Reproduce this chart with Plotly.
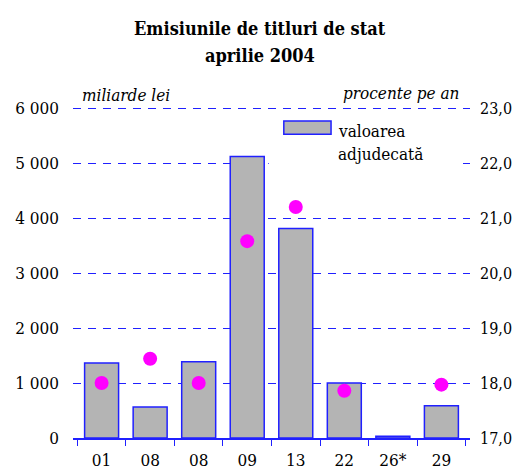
import plotly.graph_objects as go

categories = ["01", "08", "08 ", "09", "13", "22", "26*", "29"]
cat_labels = ["01", "08", "08", "09", "13", "22", "26*", "29"]
valoare = [1365, 565, 1385, 5120, 3810, 1000, 30, 585]
procente = [18.0, 18.44, 18.0, 20.58, 21.2, 17.86, None, 17.97]

left_ticks = [0, 1000, 2000, 3000, 4000, 5000, 6000]
left_labels = ["0", "1 000", "2 000", "3 000", "4 000", "5 000", "6 000"]
right_ticks = [17, 18, 19, 20, 21, 22, 23]
right_labels = ["17,0", "18,0", "19,0", "20,0", "21,0", "22,0", "23,0"]

FONT = "'DejaVu Serif Condensed', 'DejaVu Serif', serif"
FS = 17
BLUE = "#2020ff"

fig = go.Figure()
fig.add_trace(go.Bar(
    x=categories, y=valoare, name="valoarea adjudecată",
    marker=dict(color="#b4b4b4", line=dict(color=BLUE, width=1.5)),
    showlegend=False,
))
fig.add_trace(go.Scatter(
    x=categories, y=procente, yaxis="y2", mode="markers",
    marker=dict(color="#ff00ff", size=14),
    showlegend=False,
))

fig.update_layout(
    width=520, height=470,
    margin=dict(l=65, r=58, t=99, b=40, autoexpand=False),
    paper_bgcolor="white", plot_bgcolor="white",
    font=dict(family=FONT, size=FS, color="black"),
    bargap=0.3,
    xaxis=dict(
        type="category", tickvals=categories, ticktext=cat_labels,
        showline=True, linecolor=BLUE, linewidth=1.5,
        ticks="outside", tickson="boundaries", ticklen=6, tickcolor=BLUE,
        showgrid=False, ticklabelstandoff=6, automargin=False,
    ),
    yaxis=dict(
        range=[0, 6020], tickvals=left_ticks, ticktext=left_labels,
        showgrid=True, gridcolor=BLUE, gridwidth=1, griddash="8px,7px",
        zeroline=False, showline=False, ticks="", ticklabelstandoff=13,
        automargin=False,
    ),
    yaxis2=dict(
        range=[17, 23.02], tickvals=right_ticks, ticktext=right_labels,
        overlaying="y", side="right", showgrid=False, zeroline=False,
        showline=False, ticks="", ticklabelstandoff=9, automargin=False,
        tickfont=dict(size=16),
    ),
    annotations=[
        dict(text="<b>Emisiunile de titluri de stat</b>", xref="paper", yref="paper",
             x=0.471, y=1.236, xanchor="center", yanchor="middle",
             showarrow=False, font=dict(family=FONT, size=FS + 1)),
        dict(text="<b>aprilie 2004</b>", xref="paper", yref="paper",
             x=0.471, y=1.157, xanchor="center", yanchor="middle",
             showarrow=False, font=dict(family=FONT, size=FS + 1)),
        dict(text="<i>miliarde lei</i>", xref="paper", yref="paper",
             x=0.018, y=1.036, xanchor="left", yanchor="middle",
             showarrow=False, font=dict(family=FONT, size=FS)),
        dict(text="<i>procente pe an</i>", xref="paper", yref="paper",
             x=0.978, y=1.042, xanchor="right", yanchor="middle",
             showarrow=False, font=dict(family=FONT, size=FS)),
        dict(text="valoarea", xref="paper", yref="paper",
             x=0.662, y=0.927, xanchor="left", yanchor="middle", align="left",
             showarrow=False, font=dict(family=FONT, size=FS)),
        dict(text="adjudecată", xref="paper", yref="paper",
             x=0.662, y=0.857, xanchor="left", yanchor="middle", align="left",
             showarrow=False, font=dict(family=FONT, size=FS)),
    ],
    shapes=[
        dict(type="rect", xref="paper", yref="paper",
             x0=0.493, x1=0.968, y0=0.81, y1=0.985,
             fillcolor="white", line=dict(width=0)),
        dict(type="rect", xref="paper", yref="paper",
             x0=0.531, x1=0.650, y0=0.918, y1=0.958,
             fillcolor="#b4b4b4", line=dict(color=BLUE, width=1.5)),
    ],
)

fig.write_html("out.html")
